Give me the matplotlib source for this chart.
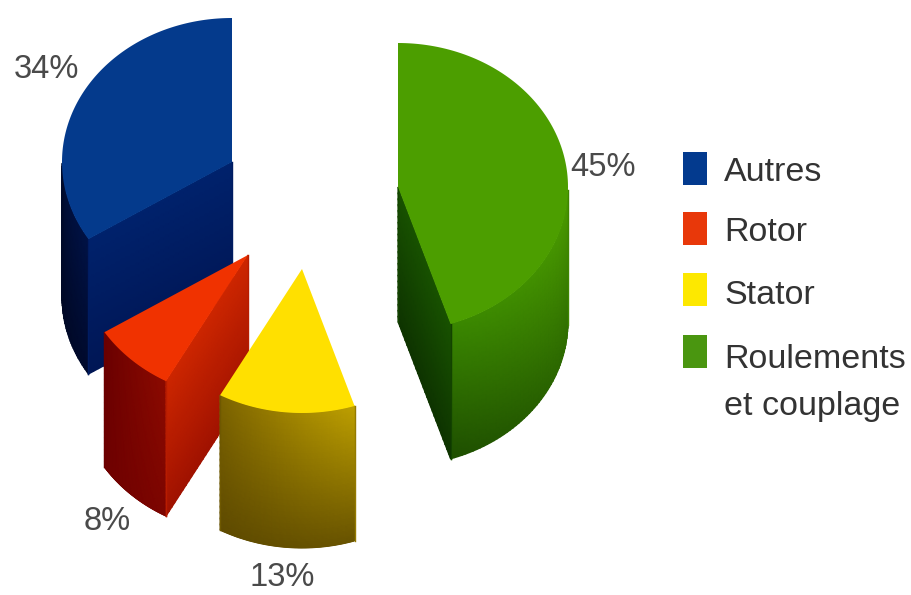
import numpy as np
from matplotlib import pyplot as plt
from matplotlib.patches import Polygon, Rectangle

# Parts de pannes, dans le sens anti-horaire depuis le haut
categories = ['Autres', 'Rotor', 'Stator', 'Roulements\net couplage']
shares = [34, 8, 13, 45]

tops = ['#043a8c', '#f03200', '#ffe000', '#4c9e00']
legend_colors = ['#033a8e', '#e8380a', '#fde800', '#4a9610']
# couleurs du flanc courbe : haut gauche, haut droite, bas gauche, bas droite
walls = [
    [(0, 12, 48), (0, 18, 70), (0, 8, 36), (0, 10, 45)],
    [(105, 0, 0), (140, 10, 0), (110, 0, 0), (125, 5, 0)],
    [(125, 100, 0), (190, 160, 0), (95, 75, 0), (105, 84, 0)],
    [(58, 135, 0), (75, 155, 0), (30, 78, 0), (48, 112, 0)],
]
# couleurs de la face de coupe : haut, bas
faces = [
    [(0, 34, 108), (0, 22, 85)],
    [(205, 38, 0), (160, 18, 0)],
    [(0, 0, 0), (0, 0, 0)],
    [(24, 82, 0), (14, 52, 0)],
]

# centre de chaque part une fois éclatée
centers = [(232, 162), (248, 255), (302, 269), (398, 187)]
label_pos = [(46, 70), (107, 522), (282, 578), (603, 168)]
legend_y = [152, 212, 273, 335]
legend_text_y = [157, 217, 280, 344]

rx, ry = 170, 144
depth = 135

font_name = 'Liberation Sans'


def rim(cx, cy, a):
    # a en degrés, sens anti-horaire depuis le haut
    t = np.radians(a)
    return cx - rx * np.sin(t), cy - ry * np.cos(t)


def mix(c0, c1, w):
    return np.array(c0)[None] * (1 - w)[:, None] + np.array(c1)[None] * w[:, None]


def draw_wall(ax, xs, ys, c_tl, c_tr, c_bl, c_br, z):
    v = np.linspace(0, 1, 24)
    X = np.tile(xs, (len(v), 1))
    Y = np.outer(np.ones(len(v)), ys) + np.outer(v, np.full(len(ys), depth))
    u = np.linspace(0, 1, len(xs))
    top = mix(c_tl, c_tr, u)
    bot = mix(c_bl, c_br, u)
    C = np.empty((len(v), len(xs), 3))
    for i, w in enumerate(v):
        C[i] = top * (1 - w) + bot * w
    ax.pcolormesh(X, Y, C / 255.0, shading='gouraud', zorder=z, antialiased=True)
    # bords latéraux, sinon le maillage laisse des pointillés
    for col, c0, c1 in ((0, c_tl, c_bl), (-1, c_tr, c_br)):
        edge = (np.array(c0) + np.array(c1)) / 2.0 / 255.0
        ax.plot(X[:, col], Y[:, col], color=edge, lw=1.0, zorder=z)


fig = plt.figure()
fig.set_size_inches(9.11, 5.95)
ax = fig.add_axes([0, 0, 1, 1])
ax.set_xlim(0, 911)
ax.set_ylim(595, 0)
ax.axis('off')

# Parts du gâteau, vues de dessus avec extrusion vers le bas
a_start = 0.0
for i, share in enumerate(shares):
    a_end = a_start + 360.0 * share / sum(shares)
    cx, cy = centers[i]
    z = 2 + i * 3
    angles = np.linspace(a_start, a_end, 120)
    xs, ys = rim(cx, cy, angles)

    # flanc courbe : seulement la portion tournée vers l'avant
    front = np.cos(np.radians(angles)) < 0
    if front.any():
        fx, fy = xs[front], ys[front]
        order = np.argsort(fx)
        c = walls[i]
        draw_wall(ax, fx[order], fy[order], c[0], c[1], c[2], c[3], z)

    # faces de coupe visibles
    mid_x, mid_y = rim(0, 0, (a_start + a_end) / 2.0)
    for a in (a_start, a_end):
        ex, ey = rim(0, 0, a)
        nx, ny = ey, -ex
        if nx * mid_x + ny * mid_y > 0:
            nx, ny = -nx, -ny
        if ny > 1:
            line_x = np.linspace(cx, cx + ex, 30)
            line_y = np.linspace(cy, cy + ey, 30)
            c = faces[i]
            draw_wall(ax, line_x, line_y, c[0], c[0], c[1], c[1], z + 1)

    ax.add_patch(Polygon(np.column_stack([np.r_[cx, xs], np.r_[cy, ys]]),
                         closed=True, facecolor=tops[i], edgecolor='none', zorder=z + 2))

    ax.text(label_pos[i][0], label_pos[i][1], f'{share}%', fontsize=23.5, family=font_name,
            color='#4a4a4a', ha='center', va='center', zorder=30)
    a_start = a_end

# Légende
for i, name in enumerate(categories):
    ax.add_patch(Rectangle((683, legend_y[i]), 24, 33, facecolor=legend_colors[i],
                           edgecolor='none', zorder=30))
    ax.text(724, legend_text_y[i], name, fontsize=24.5, family=font_name, color='#333333',
            ha='left', va='top', linespacing=1.65, zorder=30)

fig.savefig('out.png', dpi=100)
